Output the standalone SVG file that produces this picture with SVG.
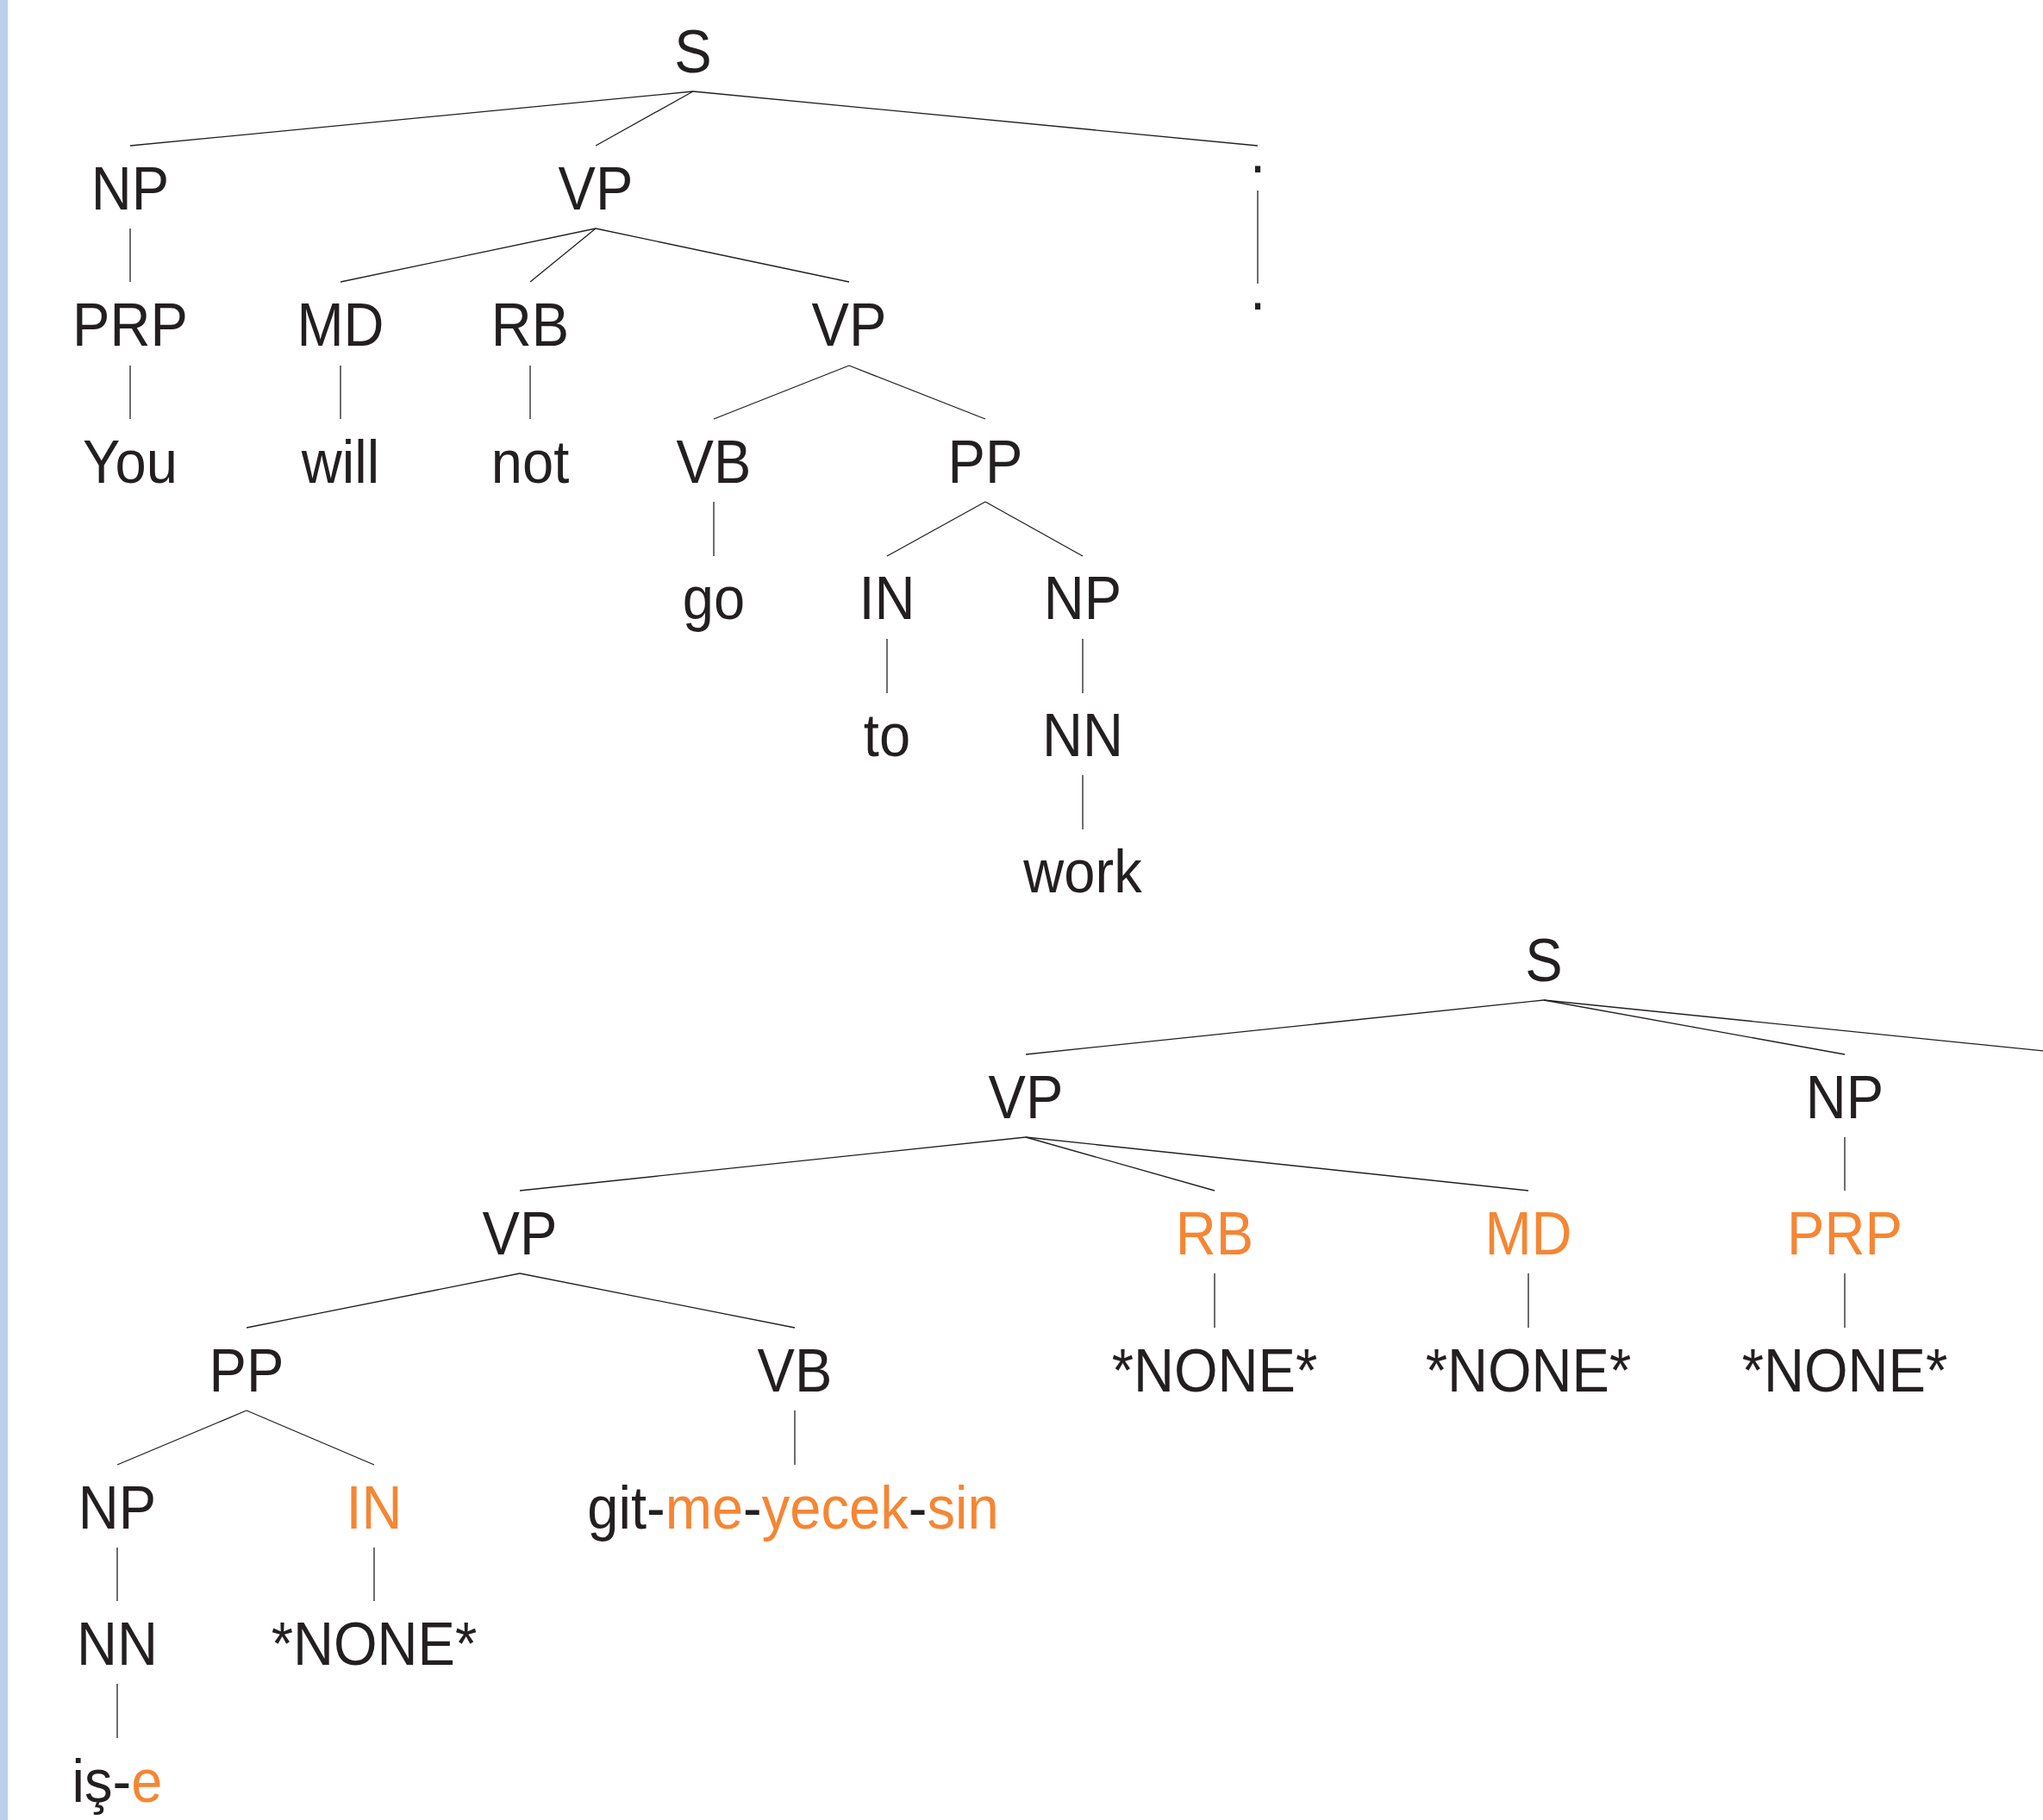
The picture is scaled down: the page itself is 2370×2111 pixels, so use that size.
<svg xmlns="http://www.w3.org/2000/svg" width="2370" height="2111" viewBox="0 0 2370 2111">
<style>
text{font-family:"Liberation Sans",Arial,Helvetica,sans-serif;font-size:70px;fill:#231f20;text-anchor:middle}
.o{fill:#f58634}
.e line{stroke:#231f20;stroke-width:1.3;fill:none}
</style>
<rect x="0" y="0" width="2370" height="2111" fill="#ffffff"/>
<rect x="0" y="0" width="9" height="2111" fill="#bdd0ea"/>
<g class="e" id="connectors">
<line x1="804" y1="106" x2="151" y2="169"/>
<line x1="804" y1="106" x2="691" y2="169"/>
<line x1="804" y1="106" x2="1459" y2="169"/>
<line x1="151" y1="265" x2="151" y2="327"/>
<line x1="691" y1="265" x2="395" y2="327"/>
<line x1="691" y1="265" x2="615" y2="327"/>
<line x1="691" y1="265" x2="985" y2="327"/>
<line x1="1459" y1="221" x2="1459" y2="329"/>
<line x1="151" y1="424" x2="151" y2="486"/>
<line x1="395" y1="424" x2="395" y2="486"/>
<line x1="615" y1="424" x2="615" y2="486"/>
<line x1="985" y1="424" x2="828" y2="486"/>
<line x1="985" y1="424" x2="1143" y2="486"/>
<line x1="828" y1="582" x2="828" y2="645"/>
<line x1="1143" y1="582" x2="1029" y2="645"/>
<line x1="1143" y1="582" x2="1256" y2="645"/>
<line x1="1029" y1="741" x2="1029" y2="804"/>
<line x1="1256" y1="741" x2="1256" y2="804"/>
<line x1="1256" y1="899" x2="1256" y2="962"/>
<line x1="1791" y1="1160" x2="1190" y2="1223"/>
<line x1="1791" y1="1160" x2="2140" y2="1223"/>
<line x1="1791" y1="1160" x2="2390" y2="1221"/>
<line x1="2140" y1="1319" x2="2140" y2="1381"/>
<line x1="1190" y1="1319" x2="603" y2="1381"/>
<line x1="1190" y1="1319" x2="1409" y2="1381"/>
<line x1="1190" y1="1319" x2="1773" y2="1381"/>
<line x1="603" y1="1477" x2="286" y2="1540"/>
<line x1="603" y1="1477" x2="922" y2="1540"/>
<line x1="1409" y1="1477" x2="1409" y2="1540"/>
<line x1="1773" y1="1477" x2="1773" y2="1540"/>
<line x1="2140" y1="1477" x2="2140" y2="1540"/>
<line x1="286" y1="1636" x2="136" y2="1699"/>
<line x1="286" y1="1636" x2="434" y2="1699"/>
<line x1="922" y1="1636" x2="922" y2="1699"/>
<line x1="136" y1="1795" x2="136" y2="1857"/>
<line x1="434" y1="1795" x2="434" y2="1857"/>
<line x1="136" y1="1953" x2="136" y2="2016"/>
</g>
<g id="t-S"><text transform="translate(804,84) scale(0.93,1)">S</text></g>
<g id="t-NP"><text transform="translate(151,243) scale(0.93,1)">NP</text></g>
<g id="t-VP"><text transform="translate(691,243) scale(0.93,1)">VP</text></g>
<g id="t-punct1"><text transform="translate(1459,200) scale(0.93,1)">.</text></g>
<g id="t-PRP"><text transform="translate(151,401) scale(0.93,1)">PRP</text></g>
<g id="t-MD"><text transform="translate(395,401) scale(0.93,1)">MD</text></g>
<g id="t-RB"><text transform="translate(615,401) scale(0.93,1)">RB</text></g>
<g id="t-VP2"><text transform="translate(985,401) scale(0.93,1)">VP</text></g>
<g id="t-punct2"><text transform="translate(1459,359) scale(0.93,1)">.</text></g>
<g id="t-You"><text transform="translate(151,560) scale(0.93,1)">You</text></g>
<g id="t-will"><text transform="translate(395,560) scale(0.93,1)">will</text></g>
<g id="t-not"><text transform="translate(615,560) scale(0.93,1)">not</text></g>
<g id="t-VB"><text transform="translate(828,560) scale(0.93,1)">VB</text></g>
<g id="t-PP"><text transform="translate(1143,560) scale(0.93,1)">PP</text></g>
<g id="t-go"><text transform="translate(828,718) scale(0.93,1)">go</text></g>
<g id="t-IN"><text transform="translate(1029,718) scale(0.93,1)">IN</text></g>
<g id="t-NP2"><text transform="translate(1256,718) scale(0.93,1)">NP</text></g>
<g id="t-to"><text transform="translate(1029,877) scale(0.93,1)">to</text></g>
<g id="t-NN"><text transform="translate(1256,877) scale(0.93,1)">NN</text></g>
<g id="t-work"><text transform="translate(1256,1035) scale(0.93,1)">work</text></g>
<g id="b-S"><text transform="translate(1791,1138) scale(0.93,1)">S</text></g>
<g id="b-VP"><text transform="translate(1190,1297) scale(0.93,1)">VP</text></g>
<g id="b-NP"><text transform="translate(2140,1297) scale(0.93,1)">NP</text></g>
<g id="b-VP2"><text transform="translate(603,1455) scale(0.93,1)">VP</text></g>
<g id="b-RB"><text class="o" transform="translate(1409,1455) scale(0.93,1)">RB</text></g>
<g id="b-MD"><text class="o" transform="translate(1773,1455) scale(0.93,1)">MD</text></g>
<g id="b-PRP"><text class="o" transform="translate(2140,1455) scale(0.93,1)">PRP</text></g>
<g id="b-PP"><text transform="translate(286,1614) scale(0.93,1)">PP</text></g>
<g id="b-VB"><text transform="translate(922,1614) scale(0.93,1)">VB</text></g>
<g id="b-NONE1"><text transform="translate(1409,1614) scale(0.93,1)">*NONE*</text></g>
<g id="b-NONE2"><text transform="translate(1773,1614) scale(0.93,1)">*NONE*</text></g>
<g id="b-NONE3"><text transform="translate(2140,1614) scale(0.93,1)">*NONE*</text></g>
<g id="b-NP3"><text transform="translate(136,1773) scale(0.93,1)">NP</text></g>
<g id="b-IN"><text class="o" transform="translate(434,1773) scale(0.93,1)">IN</text></g>
<g id="b-git"><text transform="translate(920,1773) scale(0.93,1)">git-<tspan class="o">me</tspan>-<tspan class="o">yecek</tspan>-<tspan class="o">sin</tspan></text></g>
<g id="b-NN"><text transform="translate(136,1931) scale(0.93,1)">NN</text></g>
<g id="b-NONE4"><text transform="translate(434,1931) scale(0.93,1)">*NONE*</text></g>
<g id="b-ise"><text transform="translate(136,2090) scale(0.93,1)">iş-<tspan class="o">e</tspan></text></g>
</svg>
